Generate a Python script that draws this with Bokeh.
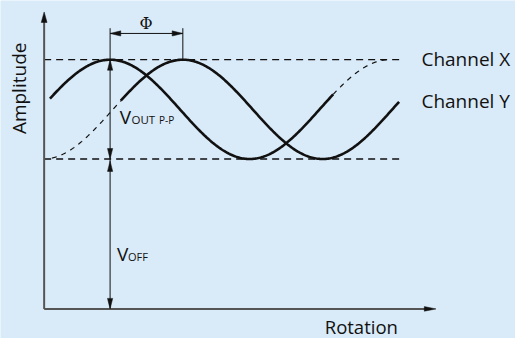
import numpy as np
from bokeh.plotting import figure
from bokeh.models import Range1d
from bokeh.core.properties import value
from bokeh.embed import file_html
from bokeh.resources import INLINE

BG = "#d9eaf8"
INK = "#111111"
AXIS = "#555555"
FONT = "Open Sans"

# ---- data (rotation / amplitude units) ----
channels = ["Channel X", "Channel Y"]
peak_rotation = [68, 143]        # position of the first maximum of each channel
period = 288                      # one full revolution
level_max = 261                   # upper amplitude level (dashed)
level_min = 157                   # lower amplitude level (dashed) = V_OFF
solid_from = [6, 79]
solid_to = [298, 366]
dashed_from = [298, 8]
dashed_to = [356, 79]
label_y = [262, 218]              # vertical centres of the channel labels
level_line_end = 368
axis_x_end = 404
axis_y_end = 311

offset = (level_max + level_min) / 2
amp = (level_max - level_min) / 2


def wave(peak, x0, x1, n=240):
    xs = np.linspace(x0, x1, n)
    ys = offset + amp * np.cos(2 * np.pi * (xs - peak) / period)
    return xs, ys


p = figure(width=515, height=338, x_range=Range1d(-45, 486), y_range=Range1d(-31, 323),
           output_backend="svg", toolbar_location=None, min_border=0,
           x_axis_type=None, y_axis_type=None,
           background_fill_color=BG, border_fill_color=BG, outline_line_color=None)
p.grid.visible = False

# dashed amplitude levels
p.segment(x0=[0, 0], y0=[level_max, level_min], x1=[level_line_end] * 2,
          y1=[level_max, level_min], line_color=INK, line_width=1.3, line_dash="7 5")

# curves
for i, ch in enumerate(channels):
    xs, ys = wave(peak_rotation[i], solid_from[i], solid_to[i])
    p.line(xs, ys, line_color=INK, line_width=2.6)
    xs, ys = wave(peak_rotation[i], dashed_from[i], dashed_to[i])
    p.line(xs, ys, line_color=INK, line_width=1.2, line_dash="5 5")


def head(tx, ty, direction, length=11, half=2.7):
    if direction == "up":
        return [tx, tx - half, tx + half], [ty, ty - length, ty - length]
    if direction == "down":
        return [tx, tx - half, tx + half], [ty, ty + length, ty + length]
    if direction == "right":
        return [tx, tx - length, tx - length], [ty, ty - half, ty + half]
    return [tx, tx + length, tx + length], [ty, ty - half, ty + half]


heads_x, heads_y = [], []

# phase bracket
px0, px1 = peak_rotation
bracket_top = level_max + 33
arrow_y = level_max + 27.5
p.segment(x0=[px0, px1], y0=[level_max, level_max], x1=[px0, px1], y1=[bracket_top] * 2,
          line_color=INK, line_width=1)
p.segment(x0=[px0], y0=[arrow_y], x1=[px1], y1=[arrow_y], line_color=INK, line_width=1)
for hx, hy in [head(px0, arrow_y, "left"), head(px1, arrow_y, "right")]:
    heads_x.append(hx); heads_y.append(hy)

# V_OUT and V_OFF arrows
p.segment(x0=[px0], y0=[0], x1=[px0], y1=[level_max], line_color=INK, line_width=1)
for hx, hy in [head(px0, level_max, "up"), head(px0, level_min, "down"),
               head(px0, level_min - 2, "up"), head(px0, 0, "down")]:
    heads_x.append(hx); heads_y.append(hy)

# axes
p.segment(x0=[0, 0], y0=[0, 0], x1=[0, axis_x_end - 11], y1=[axis_y_end - 10, 0],
          line_color=AXIS, line_width=2)
for hx, hy in [head(0, axis_y_end, "up", 11, 3), head(axis_x_end, 0, "right", 12, 2.4)]:
    heads_x.append(hx); heads_y.append(hy)

p.patches(heads_x, heads_y, fill_color=INK, line_color=INK, line_width=0.5)

# texts
common = dict(text_font=value(FONT), text_color=INK, text_baseline="middle")
p.text(x=[389, 389], y=label_y, text=channels, text_font_size="19px", text_align="left", **common)
p.text(x=[78, 75], y=[201.5, 58], text=["V", "V"], text_font_size="19px", text_align="left", **common)
p.text(x=[90], y=[198.5], text=["OUT"], text_font_size="11.5px", text_align="left", **common)
p.text(x=[118.5], y=[198], text=["P-P"], text_font_size="10px", text_align="left", **common)
p.text(x=[86.5], y=[55], text=["OFF"], text_font_size="11px", text_align="left", **common)
p.text(x=[-26], y=[231], text=["Amplitude"], angle=np.pi / 2, text_font_size="19px",
       text_align="center", **common)
p.text(x=[327], y=[-18], text=["Rotation"], text_font_size="18.5px", text_align="center", **common)
p.text(x=[105], y=[299], text=["Φ"], text_font=value("DejaVu Serif"), text_font_size="16px",
       text_color=INK, text_align="center", text_baseline="middle")

open("out.html", "w").write(file_html(p, INLINE))
